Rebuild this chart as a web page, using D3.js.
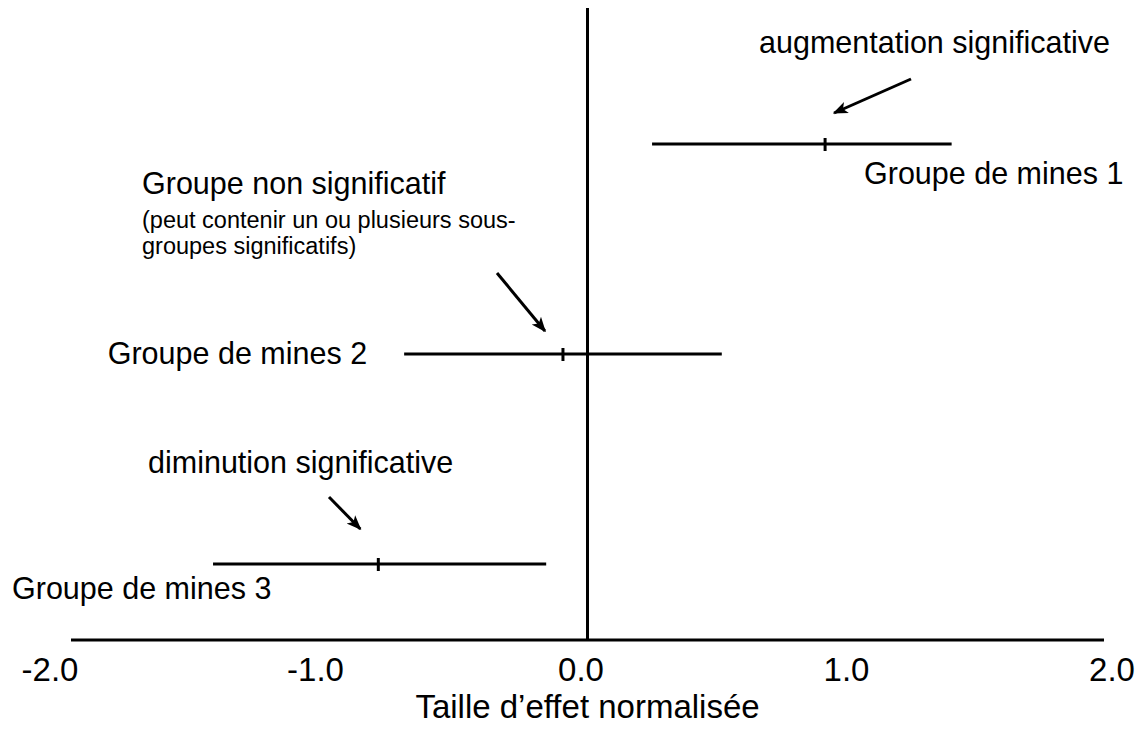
<!DOCTYPE html>
<html>
<head>
<meta charset="utf-8">
<script src="https://cdn.jsdelivr.net/npm/d3@7"></script>
<style>
  html, body { margin: 0; padding: 0; background: #fff; }
  svg { display: block; font-family: "Liberation Sans", Arial, sans-serif; }
</style>
</head>
<body>
<svg id="chart" width="1148" height="737"></svg>
<script>
// ---- data ----
const groups    = ["Groupe de mines 1", "Groupe de mines 2", "Groupe de mines 3"];
const estimates = [0.92, -0.095, -0.81];
const lower     = [0.25, -0.71, -1.45];
const upper     = [1.41, 0.52, -0.16];
const tickValues = [-2, -1, 0, 1, 2];
const tickLabels = ["-2.0", "-1.0", "0.0", "1.0", "2.0"];
const axisTitle = "Taille d\u2019effet normalisée";
const annotations = [
  { lines: ["augmentation significative"], sub: [] },
  { lines: ["Groupe non significatif"], sub: ["(peut contenir un ou plusieurs sous-", "groupes significatifs)"] },
  { lines: ["diminution significative"], sub: [] }
];

// ---- layout ----
const svg = d3.select("#chart");
const x = d3.scaleLinear().domain([-2, 2]).range([71, 1104]);
const xLabel = d3.scaleLinear().domain([-2, 2]).range([50, 1112]);
const y = d3.scalePoint().domain(groups).range([144, 564]);
const axisY = 640;
const mainSize = 30.5, subSize = 23.5;

const ink = "#000";

// arrow marker
svg.append("defs").append("marker")
  .attr("id", "arrow")
  .attr("viewBox", "0 0 10 10")
  .attr("refX", 9).attr("refY", 5)
  .attr("markerWidth", 5).attr("markerHeight", 5)
  .attr("markerUnits", "strokeWidth")
  .attr("orient", "auto")
  .append("path").attr("d", "M0,1 L10,5 L0,9 L2.5,5 Z").attr("fill", ink);

// horizontal axis line
const axis = d3.axisBottom(x).tickValues(tickValues).tickSize(0).tickFormat("");
const gAxis = svg.append("g").attr("transform", `translate(0,${axisY})`).call(axis);
gAxis.select(".domain").attr("stroke", ink).attr("stroke-width", 3).attr("d", `M${x(-2)},0H${x(2)}`);

// tick labels
svg.append("g").selectAll("text").data(tickValues).join("text")
  .attr("x", d => xLabel(d))
  .attr("y", 681)
  .attr("text-anchor", "middle")
  .attr("font-size", 33)
  .attr("fill", ink)
  .text((d, i) => tickLabels[i]);

// axis title
svg.append("text")
  .attr("x", x(0))
  .attr("y", 718)
  .attr("text-anchor", "middle")
  .attr("font-size", 33)
  .attr("fill", ink)
  .text(axisTitle);

// vertical zero line
svg.append("line")
  .attr("x1", x(0)).attr("x2", x(0))
  .attr("y1", 8).attr("y2", axisY)
  .attr("stroke", ink).attr("stroke-width", 3);

// CI lines
const rows = groups.map((g, i) => ({ g, est: estimates[i], lo: lower[i], hi: upper[i] }));
svg.append("g").selectAll("line").data(rows).join("line")
  .attr("x1", d => x(d.lo)).attr("x2", d => x(d.hi))
  .attr("y1", d => y(d.g)).attr("y2", d => y(d.g))
  .attr("stroke", ink).attr("stroke-width", 3);

// estimate ticks
svg.append("g").selectAll("line").data(rows).join("line")
  .attr("x1", d => x(d.est)).attr("x2", d => x(d.est))
  .attr("y1", d => y(d.g) - 6).attr("y2", d => y(d.g) + 7)
  .attr("stroke", ink).attr("stroke-width", 3);

// group labels
const labelPos = [
  { px: () => 864, dy: 40, anchor: "start" },
  { px: d => x(d.lo) - 37, dy: 10, anchor: "end" },
  { px: () => 12, dy: 35, anchor: "start" }
];
svg.append("g").selectAll("text").data(rows).join("text")
  .attr("x", (d, i) => labelPos[i].px(d))
  .attr("y", (d, i) => y(d.g) + labelPos[i].dy)
  .attr("text-anchor", (d, i) => labelPos[i].anchor)
  .attr("font-size", mainSize)
  .attr("fill", ink)
  .text(d => d.g);

// annotations + arrows
const annPos = [
  { tx: 759, ty: 53, from: [911, 79], to: [9, -31] },
  { tx: 142, ty: 194, from: [497, 273], to: [-18, -23] },
  { tx: 148, ty: 473, from: [329, 497], to: [-18, -35] }
];
annotations.forEach((a, i) => {
  const r = rows[i], p = annPos[i];
  const t = svg.append("text").attr("fill", ink);
  t.append("tspan").attr("x", p.tx).attr("y", p.ty).attr("font-size", mainSize).text(a.lines[0]);
  a.sub.forEach((s, j) => {
    t.append("tspan").attr("x", p.tx).attr("y", p.ty + 34 + j * 26).attr("font-size", subSize).text(s);
  });
  svg.append("line")
    .attr("x1", p.from[0]).attr("y1", p.from[1])
    .attr("x2", x(r.est) + p.to[0]).attr("y2", y(r.g) + p.to[1])
    .attr("stroke", ink).attr("stroke-width", 3)
    .attr("marker-end", "url(#arrow)");
});
</script>
</body>
</html>
